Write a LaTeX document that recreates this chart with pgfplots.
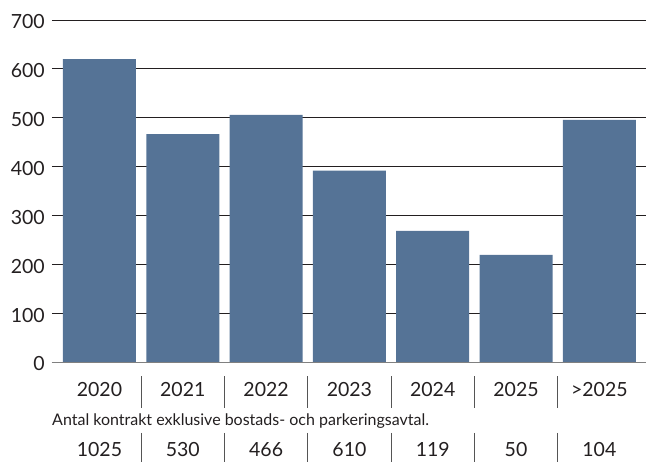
\documentclass[border=0pt]{standalone}
\usepackage{pgfplots}
\pgfplotsset{compat=1.18}
\usepackage{fontspec}
\setmainfont{Lato}
\definecolor{barc}{HTML}{557396}
\definecolor{txt}{HTML}{231F20}
\definecolor{sepc}{HTML}{555555}
\begin{document}
\begin{tikzpicture}
\path[use as bounding box] (-52pt,-99.5pt) rectangle (594pt,362.5pt);
\begin{axis}[
 at={(0,0)}, anchor=south west,
 scale only axis, width=594pt, height=342.5pt,
 xmin=-0.57, xmax=6.56, ymin=0, ymax=700,
 axis line style={draw=none},
 ytick={0,100,...,700},
 xtick={0,...,6},
 xticklabels={2020,2021,2022,2023,2024,2025,{>2025}},
 major tick length=0pt,
 ymajorgrids, grid style={txt, line width=0.9pt},
 ticklabel style={font=\fontsize{19.5}{19.5}\selectfont, text=txt},
 yticklabel style={anchor=east, inner sep=0pt, xshift=-7pt, yshift=-1.5pt},
 xticklabel style={anchor=base, inner sep=0pt, yshift=-34.2pt},
 /pgf/number format/assume math mode=true,
 clip=false,
 ybar, bar width=0.876,
]
\addplot[fill=barc, draw=none] coordinates {(0,620) (1,467) (2,506) (3,392) (4,269) (5,220) (6,496)};
\draw[gray, line width=1.3pt] (axis cs:-0.57,0) -- (axis cs:6.56,0);
\draw[sepc, line width=0.9pt] ([yshift=-14pt]axis cs:0.5,0) -- ([yshift=-45.5pt]axis cs:0.5,0);
\draw[sepc, line width=0.9pt] ([yshift=-14pt]axis cs:1.5,0) -- ([yshift=-45.5pt]axis cs:1.5,0);
\draw[sepc, line width=0.9pt] ([yshift=-14pt]axis cs:2.5,0) -- ([yshift=-45.5pt]axis cs:2.5,0);
\draw[sepc, line width=0.9pt] ([yshift=-14pt]axis cs:3.5,0) -- ([yshift=-45.5pt]axis cs:3.5,0);
\draw[sepc, line width=0.9pt] ([yshift=-14pt]axis cs:4.5,0) -- ([yshift=-45.5pt]axis cs:4.5,0);
\draw[sepc, line width=0.9pt] ([yshift=-14pt]axis cs:5.5,0) -- ([yshift=-45.5pt]axis cs:5.5,0);
\draw[sepc, line width=0.9pt] ([yshift=-70.5pt]axis cs:0.5,0) -- ([yshift=-100pt]axis cs:0.5,0);
\draw[sepc, line width=0.9pt] ([yshift=-70.5pt]axis cs:1.5,0) -- ([yshift=-100pt]axis cs:1.5,0);
\draw[sepc, line width=0.9pt] ([yshift=-70.5pt]axis cs:2.5,0) -- ([yshift=-100pt]axis cs:2.5,0);
\draw[sepc, line width=0.9pt] ([yshift=-70.5pt]axis cs:3.5,0) -- ([yshift=-100pt]axis cs:3.5,0);
\draw[sepc, line width=0.9pt] ([yshift=-70.5pt]axis cs:4.5,0) -- ([yshift=-100pt]axis cs:4.5,0);
\draw[sepc, line width=0.9pt] ([yshift=-70.5pt]axis cs:5.5,0) -- ([yshift=-100pt]axis cs:5.5,0);
\node[anchor=base west, inner sep=0pt, yshift=-63.2pt, text=txt, font=\fontsize{16}{16}\selectfont] at (axis cs:-0.57,0) {Antal kontrakt exklusive bostads- och parkeringsavtal.};
\node[anchor=base, inner sep=0pt, yshift=-94.2pt, text=txt, font=\fontsize{19.5}{19.5}\selectfont] at (axis cs:0,0) {1025};
\node[anchor=base, inner sep=0pt, yshift=-94.2pt, text=txt, font=\fontsize{19.5}{19.5}\selectfont] at (axis cs:1,0) {530};
\node[anchor=base, inner sep=0pt, yshift=-94.2pt, text=txt, font=\fontsize{19.5}{19.5}\selectfont] at (axis cs:2,0) {466};
\node[anchor=base, inner sep=0pt, yshift=-94.2pt, text=txt, font=\fontsize{19.5}{19.5}\selectfont] at (axis cs:3,0) {610};
\node[anchor=base, inner sep=0pt, yshift=-94.2pt, text=txt, font=\fontsize{19.5}{19.5}\selectfont] at (axis cs:4,0) {119};
\node[anchor=base, inner sep=0pt, yshift=-94.2pt, text=txt, font=\fontsize{19.5}{19.5}\selectfont] at (axis cs:5,0) {50};
\node[anchor=base, inner sep=0pt, yshift=-94.2pt, text=txt, font=\fontsize{19.5}{19.5}\selectfont] at (axis cs:6,0) {104};
\end{axis}
\end{tikzpicture}
\end{document}
